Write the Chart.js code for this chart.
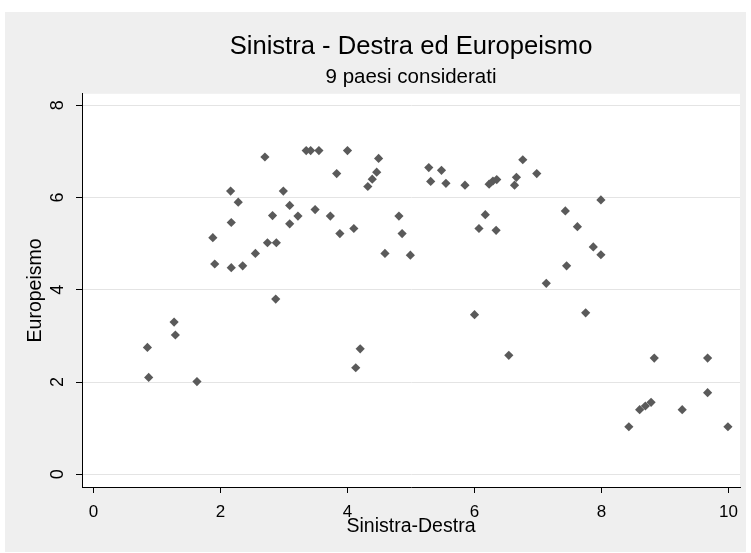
<!DOCTYPE html>
<html>
<head>
<meta charset="utf-8">
<script src="https://cdn.jsdelivr.net/npm/chart.js@4.4.1/dist/chart.umd.min.js"></script>
<style>
  html, body { margin: 0; padding: 0; background: #fff; }
  #wrap { position: absolute; left: 5px; top: 12px; width: 741px; height: 540px; background: #efefef; }
  canvas { display: block; }
</style>
</head>
<body>
<div id="wrap"><canvas id="chart" width="741" height="540"></canvas></div>
<script>
// one point per party
const sinistraDestra = [
  2.70, 3.35, 2.16, 2.99, 2.28, 3.09, 2.17, 2.82, 3.22, 3.09,
  1.88, 2.74, 2.88, 2.55, 1.91, 2.17, 2.35,
  3.42, 3.55, 4.00, 4.49, 3.83, 4.46, 4.39, 4.32,
  5.28, 5.48, 5.31, 5.55, 5.85, 6.23, 6.29, 6.35,
  3.49, 3.73, 3.88, 4.10, 4.59, 4.81, 4.86, 4.99, 6.07, 6.17, 6.34,
  6.76, 6.66, 6.63, 6.98, 7.99, 7.43, 7.62, 7.87, 7.99, 7.45, 7.13,
  2.87, 1.27, 1.29, 0.85, 0.87, 1.63, 4.20, 4.13,
  6.00, 7.75, 6.54, 8.83, 9.67, 9.67, 8.60, 8.69, 8.78, 9.27, 8.43, 9.99
]
const europeismo = [
  6.88, 7.02, 6.14, 6.14, 5.90, 5.83, 5.46, 5.61, 5.60, 5.43,
  5.13, 5.02, 5.02, 4.79, 4.56, 4.48, 4.52,
  7.02, 7.02, 7.02, 6.85, 6.52, 6.55, 6.40, 6.24,
  6.65, 6.59, 6.35, 6.31, 6.27, 6.29, 6.36, 6.39,
  5.74, 5.60, 5.22, 5.33, 4.79, 5.60, 5.22, 4.75, 5.33, 5.63, 5.29,
  6.82, 6.44, 6.27, 6.52, 5.95, 5.71, 5.37, 4.93, 4.76, 4.52, 4.14,
  3.80, 3.30, 3.02, 2.75, 2.10, 2.01, 2.72, 2.31,
  3.46, 3.50, 2.58, 2.52, 2.52, 1.77, 1.40, 1.48, 1.56, 1.40, 1.03, 1.03
]
const xTicks = [0, 2, 4, 6, 8, 10]
const yTicks = [0, 2, 4, 6, 8]

const FONT = "'Liberation Sans', Arial, sans-serif"
Chart.defaults.font.family = FONT
Chart.defaults.color = '#000'

const plotBackground = {
  id: 'plotBackground',
  beforeDraw(chart) {
    const {ctx, chartArea: a} = chart
    ctx.save()
    ctx.fillStyle = '#ffffff'
    ctx.fillRect(a.left, a.top, a.right - a.left, a.bottom - a.top)
    ctx.restore()
  }
}

const points = sinistraDestra.map((x, i) => ({x: x, y: europeismo[i]}))

new Chart(document.getElementById('chart'), {
  type: 'scatter',
  data: {
    datasets: [{
      data: points,
      pointStyle: 'rectRot',
      pointRadius: 4.6,
      backgroundColor: '#5a5a5a',
      borderWidth: 0
    }]
  },
  plugins: [plotBackground],
  options: {
    responsive: false,
    animation: false,
    events: [],
    layout: { padding: {top: 0, left: 0, right: 6, bottom: 0} },
    plugins: {
      legend: { display: false },
      tooltip: { enabled: false },
      title: {
        display: true,
        fullSize: false,
        text: 'Sinistra - Destra ed Europeismo',
        color: '#000',
        font: {size: 25.6, weight: 'normal'},
        padding: {top: 20, bottom: 0}
      },
      subtitle: {
        display: true,
        fullSize: false,
        text: '9 paesi considerati',
        color: '#000',
        font: {size: 20.5, weight: 'normal'},
        padding: {top: 2.5, bottom: 4}
      }
    },
    scales: {
      x: {
        type: 'linear',
        min: -0.18,
        max: 10.18,
        bounds: 'data',
        afterBuildTicks: axis => { axis.ticks = xTicks.map(v => ({value: v})) },
        afterFit: axis => { axis.height = 65; axis.paddingLeft = 0; axis.paddingRight = 0 },
        grid: { drawOnChartArea: false, drawTicks: true, tickLength: 6, tickColor: '#000', color: '#000' },
        border: { display: true, color: '#000', width: 1 },
        ticks: { color: '#000', font: {size: 17}, padding: 9, maxRotation: 0, minRotation: 0 },
        title: {
          display: true,
          text: 'Sinistra-Destra',
          color: '#000',
          font: {size: 19.5},
          padding: {top: 0, bottom: 14}
        }
      },
      y: {
        type: 'linear',
        min: -0.276,
        max: 8.25,
        bounds: 'data',
        afterBuildTicks: axis => { axis.ticks = yTicks.map(v => ({value: v})) },
        afterFit: axis => { axis.width = 77; axis.paddingTop = 0; axis.paddingBottom = 0 },
        grid: { color: '#e4e4e4', lineWidth: 1, drawTicks: true, tickLength: 6, tickColor: '#000' },
        border: { display: true, color: '#000', width: 1 },
        ticks: { color: '#000', font: {size: 18}, padding: 13, minRotation: 90, maxRotation: 90, crossAlign: 'center' },
        title: {
          display: true,
          text: 'Europeismo',
          color: '#000',
          font: {size: 19.5},
          padding: {top: 19, bottom: 0}
        }
      }
    }
  }
})
</script>
</body>
</html>
